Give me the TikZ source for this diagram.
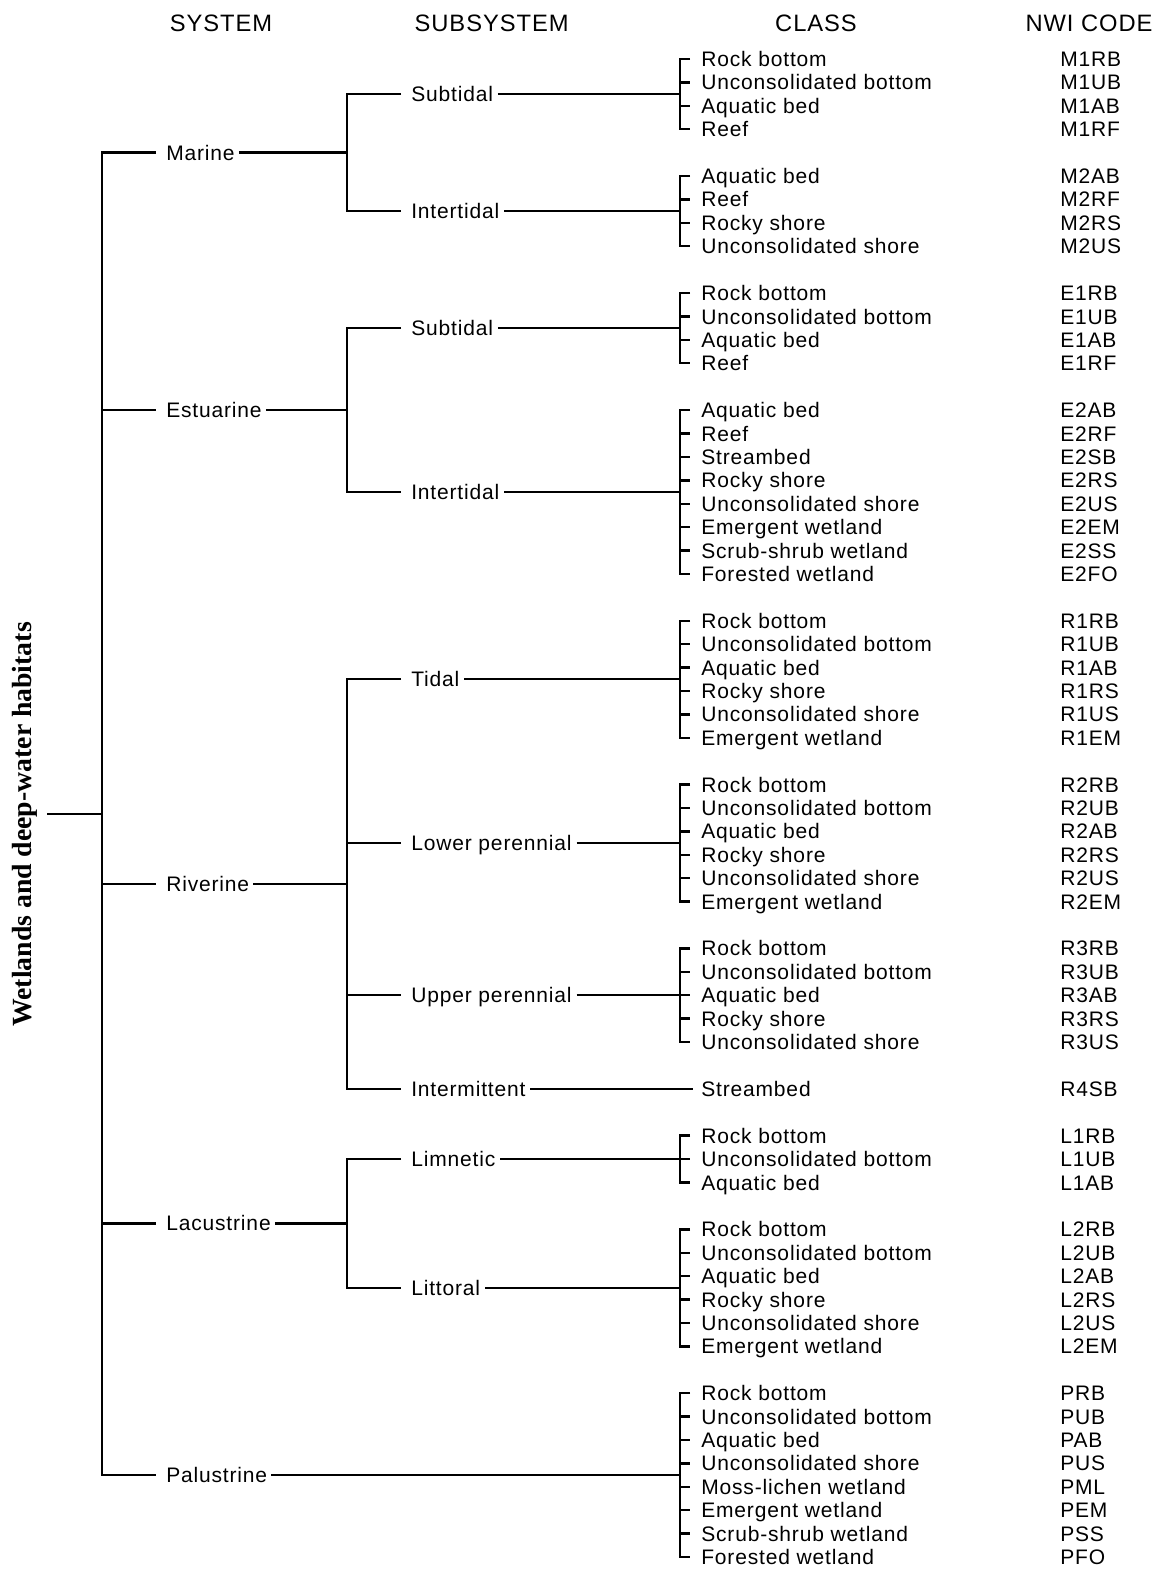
\documentclass[tikz,border=0pt]{standalone}
\usepackage{fontspec}
\setmainfont{Liberation Sans}[LetterSpace=4.0]
\newfontfamily\ttlfont{Liberation Serif}
\begin{document}
\begin{tikzpicture}[x=0.75pt,y=-17.5545pt,
  ln/.style={line width=1.8pt},
  lbl/.style={inner sep=0pt,text height=11.3pt,text depth=0pt,anchor=west,font=\fontsize{15.75}{18}\selectfont},
  hdr/.style={inner sep=0pt,text height=12.7pt,text depth=0pt,font=\fontsize{17.8}{20}\selectfont},
  ttl/.style={inner sep=0pt,rotate=90,anchor=base,font=\ttlfont\bfseries\fontsize{20.8}{24}\selectfont}]
\useasboundingbox[fill=white] (0,-2.5207) rectangle (1166,64.556);

\newcommand\cgroup[4]{%
  \foreach \txt/\cd [count=\i from #2] in {#4} {
    \node[lbl] (#1\i) at (701,\i) {\txt};
    \node[lbl] (#1c\i) at (1060,\i) {\cd};
  }
  \draw[ln] ([xshift=-8.25pt]#1#2.west) -- (680,#2) -- (680,#3) -- ([xshift=-8.25pt]#1#3.west);
  \foreach \i in {#2,...,#3} \draw[ln] (680,\i) -- ([xshift=-8.25pt]#1\i.west);
}

% headers
\node[hdr] (hsys) at (221,-1.525) {SYSTEM};
\node[hdr] (hsub) at (491.6,-1.525) {SUBSYSTEM};
\node[hdr] (hcls) at (816,-1.525) {CLASS};
\node[hdr] (hnwi) at (1089,-1.525) {NWI CODE};

% root
\node[ttl] (root) at (31.7,32.7) {Wetlands and deep-water habitats};
\coordinate (rootend) at (47,32.25);
\coordinate (rootj) at (102,32.25);
\draw[ln] (rootend) -- (rootj);

% systems
\node[lbl] (mar) at (166,4) {Marine};
\node[lbl] (est) at (166,15) {Estuarine};
\node[lbl] (riv) at (166,35.25) {Riverine};
\node[lbl] (lac) at (166,49.75) {Lacustrine};
\node[lbl] (pal) at (166,60.5) {Palustrine};
\draw[ln] ([xshift=-7.5pt]mar.west) -- (102,4) -- (102,60.5) -- ([xshift=-7.5pt]pal.west);
\foreach \s/\k in {est/15,riv/35.25,lac/49.75}
  \draw[ln] (102,\k) -- ([xshift=-7.5pt]\s.west);

% subsystems
\node[lbl] (msub) at (411,1.5) {Subtidal};
\node[lbl] (mint) at (411,6.5) {Intertidal};
\node[lbl] (esub) at (411,11.5) {Subtidal};
\node[lbl] (eint) at (411,18.5) {Intertidal};
\node[lbl] (rtid) at (411,26.5) {Tidal};
\node[lbl] (rlow) at (411,33.5) {Lower perennial};
\node[lbl] (rupp) at (411,40) {Upper perennial};
\node[lbl] (rint) at (411,44) {Intermittent};
\node[lbl] (llim) at (411,47) {Limnetic};
\node[lbl] (llit) at (411,52.5) {Littoral};

\draw[ln] ([xshift=3pt]mar.east) -- (347,4);
\draw[ln] ([xshift=-7.5pt]msub.west) -- (347,1.5) -- (347,6.5) -- ([xshift=-7.5pt]mint.west);
\draw[ln] ([xshift=3pt]est.east) -- (347,15);
\draw[ln] ([xshift=-7.5pt]esub.west) -- (347,11.5) -- (347,18.5) -- ([xshift=-7.5pt]eint.west);
\draw[ln] ([xshift=3pt]riv.east) -- (347,35.25);
\draw[ln] ([xshift=-7.5pt]rtid.west) -- (347,26.5) -- (347,44) -- ([xshift=-7.5pt]rint.west);
\draw[ln] (347,33.5) -- ([xshift=-7.5pt]rlow.west);
\draw[ln] (347,40) -- ([xshift=-7.5pt]rupp.west);
\draw[ln] ([xshift=3pt]lac.east) -- (347,49.75);
\draw[ln] ([xshift=-7.5pt]llim.west) -- (347,47) -- (347,52.5) -- ([xshift=-7.5pt]llit.west);

% subsystem to class brackets
\foreach \s/\k in {msub/1.5,mint/6.5,esub/11.5,eint/18.5,rtid/26.5,rlow/33.5,rupp/40,llim/47,llit/52.5}
  \draw[ln] ([xshift=3.5pt]\s.east) -- (680,\k);
\draw[ln] ([xshift=3pt]pal.east) -- (680,60.5);

% classes
\cgroup{a}{0}{3}{Rock bottom/M1RB,Unconsolidated bottom/M1UB,Aquatic bed/M1AB,Reef/M1RF}
\cgroup{b}{5}{8}{Aquatic bed/M2AB,Reef/M2RF,Rocky shore/M2RS,Unconsolidated shore/M2US}
\cgroup{c}{10}{13}{Rock bottom/E1RB,Unconsolidated bottom/E1UB,Aquatic bed/E1AB,Reef/E1RF}
\cgroup{d}{15}{22}{Aquatic bed/E2AB,Reef/E2RF,Streambed/E2SB,Rocky shore/E2RS,Unconsolidated shore/E2US,Emergent wetland/E2EM,Scrub-shrub wetland/E2SS,Forested wetland/E2FO}
\cgroup{e}{24}{29}{Rock bottom/R1RB,Unconsolidated bottom/R1UB,Aquatic bed/R1AB,Rocky shore/R1RS,Unconsolidated shore/R1US,Emergent wetland/R1EM}
\cgroup{f}{31}{36}{Rock bottom/R2RB,Unconsolidated bottom/R2UB,Aquatic bed/R2AB,Rocky shore/R2RS,Unconsolidated shore/R2US,Emergent wetland/R2EM}
\cgroup{g}{38}{42}{Rock bottom/R3RB,Unconsolidated bottom/R3UB,Aquatic bed/R3AB,Rocky shore/R3RS,Unconsolidated shore/R3US}
\cgroup{i}{46}{48}{Rock bottom/L1RB,Unconsolidated bottom/L1UB,Aquatic bed/L1AB}
\cgroup{j}{50}{55}{Rock bottom/L2RB,Unconsolidated bottom/L2UB,Aquatic bed/L2AB,Rocky shore/L2RS,Unconsolidated shore/L2US,Emergent wetland/L2EM}
\cgroup{k}{57}{64}{Rock bottom/PRB,Unconsolidated bottom/PUB,Aquatic bed/PAB,Unconsolidated shore/PUS,Moss-lichen wetland/PML,Emergent wetland/PEM,Scrub-shrub wetland/PSS,Forested wetland/PFO}

% intermittent -> streambed
\node[lbl] (h44) at (701,44) {Streambed};
\node[lbl] (hc44) at (1060,44) {R4SB};
\draw[ln] ([xshift=3.5pt]rint.east) -- ([xshift=-6pt]h44.west);
\end{tikzpicture}
\end{document}
